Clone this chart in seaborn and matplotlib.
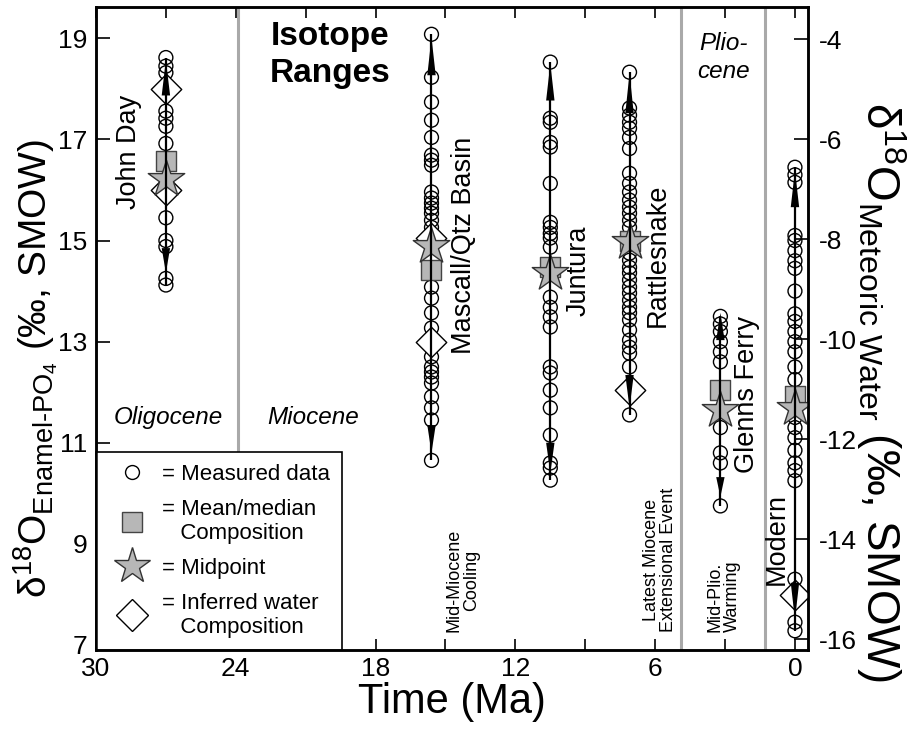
import matplotlib
matplotlib.use("Agg")
import matplotlib.pyplot as plt
import numpy as np
import pandas as pd
import seaborn as sns
from matplotlib.lines import Line2D

# ---------------- data ----------------
sites = ["John Day", "Mascall/Qtz Basin", "Juntura", "Rattlesnake", "Glenns Ferry", "Modern"]
site_age = [27.0, 15.6, 10.5, 7.1, 3.2, 0.0]

john_day = [18.62, 18.45, 18.32, 17.56, 17.42, 17.26, 16.92, 15.45, 15.0, 14.88, 14.25, 14.12]
mascall = [19.08, 18.23, 17.74, 17.38, 17.04, 16.69, 16.59, 16.49, 15.96, 15.84, 15.74, 15.64,
           15.54, 15.40, 15.26, 14.08, 13.86, 13.57, 13.27, 12.70, 12.50, 12.40, 12.30, 12.18,
           11.91, 11.69, 11.45, 10.65]
juntura = [18.53, 17.42, 17.34, 16.94, 16.85, 16.13, 15.36, 15.26, 15.14, 15.05, 14.87, 13.88,
           13.68, 13.49, 13.29, 12.50, 12.38, 12.04, 11.69, 11.15, 10.60, 10.50, 10.26]
rattlesnake = [18.33, 17.62, 17.48, 17.34, 17.22, 17.04, 16.82, 16.33, 16.13, 15.96, 15.80, 15.66,
               15.54, 15.40, 15.26, 14.75, 14.61, 14.47, 14.36, 14.22, 14.08, 13.96, 13.82, 13.68,
               13.57, 13.43, 13.23, 13.03, 12.89, 12.77, 12.50, 11.55]
glenns_ferry = [13.50, 13.35, 13.20, 13.00, 12.80, 12.60, 11.30, 10.80, 10.60, 9.75]
modern = [16.45, 16.30, 16.15, 15.10, 15.00, 14.80, 14.60, 14.45, 14.00, 13.55, 13.40, 13.20,
          13.00, 12.80, 12.50, 12.25, 11.50, 11.30, 11.10, 10.85, 10.60, 10.45, 10.25, 8.30,
          7.45, 7.28]

mean_median = [16.57, 14.42, 14.47, 15.00, 12.05, 11.93]
midpoint = [16.22, 14.90, 14.35, 14.97, 11.65, 11.68]

water_age = [27.0, 27.0, 15.6, 15.6, 7.1, 0.0]
water_val = [18.00, 16.00, 15.05, 13.00, 12.05, 7.98]

arrow_up_base = [17.87, 18.27, 17.77, 17.52, 13.03, 15.66]
arrow_up_tip = [18.57, 19.02, 18.50, 18.31, 13.57, 16.39]
arrow_dn_base = [14.85, 11.35, 11.00, 12.34, 10.32, 8.23]
arrow_dn_tip = [14.36, 10.80, 10.40, 11.69, 9.93, 7.50]

boundaries = [23.9, 4.9, 1.3]

x_ticks = [30, 27, 24, 21, 18, 15, 12, 9, 6, 3, 0]
x_ticklabels = ["30", "", "24", "", "18", "", "12", "", "6", "", "0"]
y_ticks = [7, 9, 11, 13, 15, 17, 19]
y2_ticks = [-16, -14, -12, -10, -8, -6, -4]

# ---------------- style ----------------
sns.set_style("ticks")
plt.rcParams["font.family"] = ["Liberation Sans", "DejaVu Sans"]
plt.rcParams["mathtext.fontset"] = "custom"
plt.rcParams["mathtext.rm"] = "Liberation Sans"
plt.rcParams["mathtext.it"] = "Liberation Sans:italic"
plt.rcParams["mathtext.bf"] = "Liberation Sans:bold"
for key in ["text.color", "axes.labelcolor", "xtick.color", "ytick.color", "axes.edgecolor"]:
    plt.rcParams[key] = "black"

fig = plt.figure(figsize=(9.12, 7.33), dpi=100)
ax = fig.add_axes([96 / 912, 1 - 650 / 733, (808 - 96) / 912, (650 - 7) / 733])

GRAY = "#b7b7b7"

measured = [john_day, mascall, juntura, rattlesnake, glenns_ferry, modern]
df = pd.DataFrame({
    "age": np.concatenate([[a] * len(v) for a, v in zip(site_age, measured)]),
    "d18O": np.concatenate(measured),
    "site": np.concatenate([[s] * len(v) for s, v in zip(sites, measured)]),
})

for b in boundaries:
    ax.axvline(b, color="#a9a9a9", lw=2.2, zorder=1)

sns.scatterplot(data=df, x="age", y="d18O", marker="o", s=100, facecolor="none",
                edgecolor="black", linewidth=1, ax=ax, zorder=3, legend=False)
sns.scatterplot(x=water_age, y=water_val, marker="D", s=240, facecolor="white",
                edgecolor="black", linewidth=1, ax=ax, zorder=4, legend=False)
sns.scatterplot(x=site_age, y=mean_median, marker="s", s=196, facecolor=GRAY,
                edgecolor="#444444", linewidth=1, ax=ax, zorder=5, legend=False)
sns.scatterplot(x=site_age, y=midpoint, marker="*", s=760, facecolor=GRAY,
                edgecolor="#333333", linewidth=1, ax=ax, zorder=6, legend=False)

g = df.groupby("site", sort=False)["d18O"]
ax.vlines(site_age, g.min().values, g.max().values, color="black", lw=1.6, zorder=7)

w = 0.18
for x, b0, t0, b1, t1 in zip(site_age, arrow_up_base, arrow_up_tip, arrow_dn_base, arrow_dn_tip):
    ax.fill([x - w, x + w, x], [b0, b0, t0], color="black", zorder=8, lw=0)
    ax.fill([x - w, x + w, x], [b1, b1, t1], color="black", zorder=8, lw=0)

ax.set_xlim(30, -0.56)
ax.set_ylim(6.9, 19.62)
ax.set_xticks(x_ticks)
ax.set_xticklabels(x_ticklabels)
ax.set_yticks(y_ticks)
ax.set_yticklabels([str(t) for t in y_ticks])
ax.tick_params(axis="x", direction="in", length=8, width=1.2, top=True, bottom=True,
               labelsize=19, pad=5)
ax.tick_params(axis="y", direction="in", length=10, width=1.2, left=True, right=False,
               labelsize=19, pad=6)
for sp in ax.spines.values():
    sp.set_linewidth(1.8)
    sp.set_color("black")
    sp.set_visible(True)
ax.set_xlabel("Time (Ma)", fontsize=30, labelpad=1)
ax.set_ylabel("")

ax2 = ax.twinx()
ax2.set_ylim(-16.22, -3.36)
ax2.set_yticks(y2_ticks)
ax2.set_yticklabels([str(t) for t in y2_ticks])
ax2.tick_params(axis="y", direction="in", length=10, width=1.2, labelsize=19, pad=8)
for sp in ax2.spines.values():
    sp.set_linewidth(1.8)
    sp.set_visible(True)

fig.text(36 / 912, 1 - 368 / 733,
         r"$\mathrm{δ^{18}O_{Enamel\text{-}PO_4}}$ (‰, SMOW)",
         rotation=90, ha="center", va="center", fontsize=28)
fig.text(881 / 912, 1 - 392 / 733,
         r"$\mathrm{δ^{18}O_{Meteoric\ Water}}$ (‰, SMOW)",
         rotation=270, ha="center", va="center", fontsize=33)

# ---------------- annotations ----------------
ax.text(19.95, 19.35, "Isotope\nRanges", ha="center", va="top", fontsize=24,
        fontweight="bold", linespacing=1.25)
ax.text(26.9, 11.49, "Oligocene", ha="center", va="center", fontsize=17.5, style="italic")
ax.text(20.7, 11.49, "Miocene", ha="center", va="center", fontsize=17.5, style="italic")
ax.text(3.05, 18.62, "Plio-\ncene", ha="center", va="center", fontsize=17.5, style="italic",
        linespacing=1.3)

site_labels = [("John Day", 28.6, 16.75), ("Mascall/Qtz Basin", 14.2, 14.9),
               ("Juntura", 9.27, 14.4), ("Rattlesnake", 5.88, 14.7),
               ("Glenns Ferry", 2.06, 11.95), ("Modern", 0.8, 9.1)]
for name, x, y in site_labels:
    ax.text(x, y, name, rotation=90, ha="center", va="center", fontsize=19.5)

events = [("Mid-Miocene\nCooling", 14.25), ("Latest Miocene\nExtensional Event", 5.78),
          ("Mid-Plio.\nWarming", 3.05)]
for name, x in events:
    ax.text(x, 7.25, name, rotation=90, ha="center", va="bottom", fontsize=13,
            linespacing=1.0, multialignment="center")

handles = [
    Line2D([], [], ls="", marker="o", ms=10, mfc="none", mec="black", mew=1),
    Line2D([], [], ls="", marker="s", ms=15, mfc=GRAY, mec="#444444", mew=1),
    Line2D([], [], ls="", marker="*", ms=27, mfc=GRAY, mec="#333333", mew=1),
    Line2D([], [], ls="", marker="D", ms=16, mfc="white", mec="black", mew=1),
]
labels = ["= Measured data", "= Mean/median\n   Composition", "= Midpoint",
          "= Inferred water\n   Composition"]
leg = ax.legend(handles, labels, loc="lower left", bbox_to_anchor=(0, 0), borderaxespad=0,
                fontsize=16, frameon=True, fancybox=False, framealpha=1, edgecolor="black",
                handletextpad=0.3, labelspacing=0.62, borderpad=0.55, handlelength=2.1)
leg.get_frame().set_linewidth(1.2)
leg.set_zorder(10)

fig.savefig("out.png", dpi=100)
